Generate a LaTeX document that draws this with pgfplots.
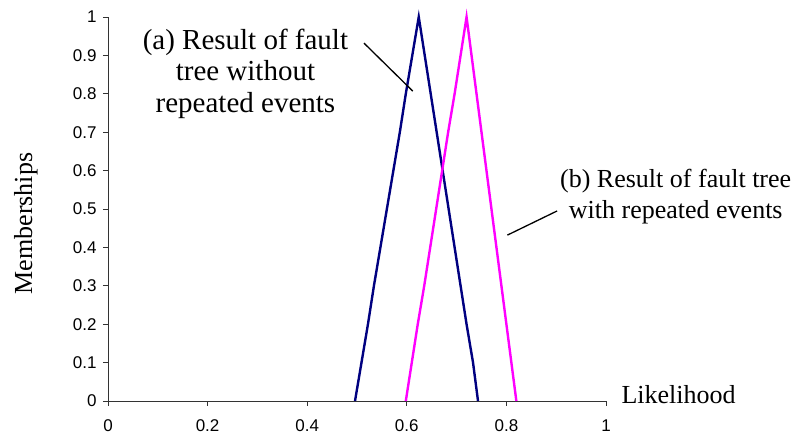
\documentclass[border=0pt]{standalone}
\usepackage{fontspec}
\setmainfont{Liberation Serif}
\newfontfamily\arialfont{Liberation Sans}
\usepackage{pgfplots}
\pgfplotsset{compat=1.18}
\definecolor{navyblue}{RGB}{0,0,128}
\definecolor{mag}{RGB}{255,0,255}
\begin{document}
\begin{tikzpicture}
\useasboundingbox (-108pt,-38pt) rectangle (693pt,401pt);
\begin{axis}[
  at={(0,0)}, anchor=origin,
  scale only axis, width=498pt, height=384pt,
  xmin=0, xmax=1, ymin=0, ymax=1,
  axis x line=bottom, axis y line=left,
  axis line style={-, line width=0.9pt, black!80},
  xtick={0,0.2,...,1.001}, ytick={0,0.1,...,1.001},
  xticklabels={0,0.2,0.4,0.6,0.8,1},
  yticklabels={0,0.1,0.2,0.3,0.4,0.5,0.6,0.7,0.8,0.9,1},
  tick align=outside, major tick length=5pt,
  tick style={line width=0.9pt, black!80},
  /pgf/number format/assume math mode=true,
  tick label style={font=\arialfont\fontsize{17}{17}\selectfont},
  xticklabel style={yshift=-10pt},
  yticklabel style={xshift=-3pt},
  xlabel={Likelihood},
  xlabel style={font=\fontsize{26}{30}\selectfont, at={(axis description cs:1,0)}, anchor=west, xshift=12pt, yshift=6pt},
  ylabel={Memberships},
  ylabel style={font=\fontsize{26}{30}\selectfont, at={(axis cs:-0.165,0.462)}, anchor=center},
  clip=false,
]
\addplot[navyblue, line width=2.4pt, line join=miter] coordinates {
(0.496,0) (0.509,0.1) (0.522,0.2) (0.534,0.3) (0.547,0.4) (0.560,0.5) (0.573,0.6) (0.586,0.7) (0.598,0.8) (0.611,0.9) (0.624,1)
(0.636,0.9) (0.648,0.8) (0.660,0.7) (0.672,0.6) (0.684,0.5) (0.696,0.4) (0.708,0.3) (0.720,0.2) (0.733,0.1) (0.743,0)
};
\addplot[mag, line width=2.4pt, line join=miter] coordinates {
(0.598,0) (0.610,0.1) (0.622,0.2) (0.635,0.3) (0.647,0.4) (0.659,0.5) (0.671,0.6) (0.683,0.7) (0.696,0.8) (0.708,0.9) (0.720,1)
(0.730,0.9) (0.740,0.8) (0.750,0.7) (0.760,0.6) (0.770,0.5) (0.780,0.4) (0.790,0.3) (0.800,0.2) (0.810,0.1) (0.820,0)
};
\draw[black, line width=1.3pt] (axis cs:0.514,0.932) -- (axis cs:0.612,0.807);
\draw[black, line width=1.3pt] (axis cs:0.802,0.432) -- (axis cs:0.902,0.495);
\node[align=center, font=\fontsize{29}{31.5}\selectfont] at (axis cs:0.276,0.853) {(a) Result of fault\\tree without\\repeated events};
\node[align=center, font=\fontsize{26}{31}\selectfont] at (axis cs:1.14,0.531) {(b) Result of fault tree\\with repeated events};
\end{axis}
\end{tikzpicture}
\end{document}
